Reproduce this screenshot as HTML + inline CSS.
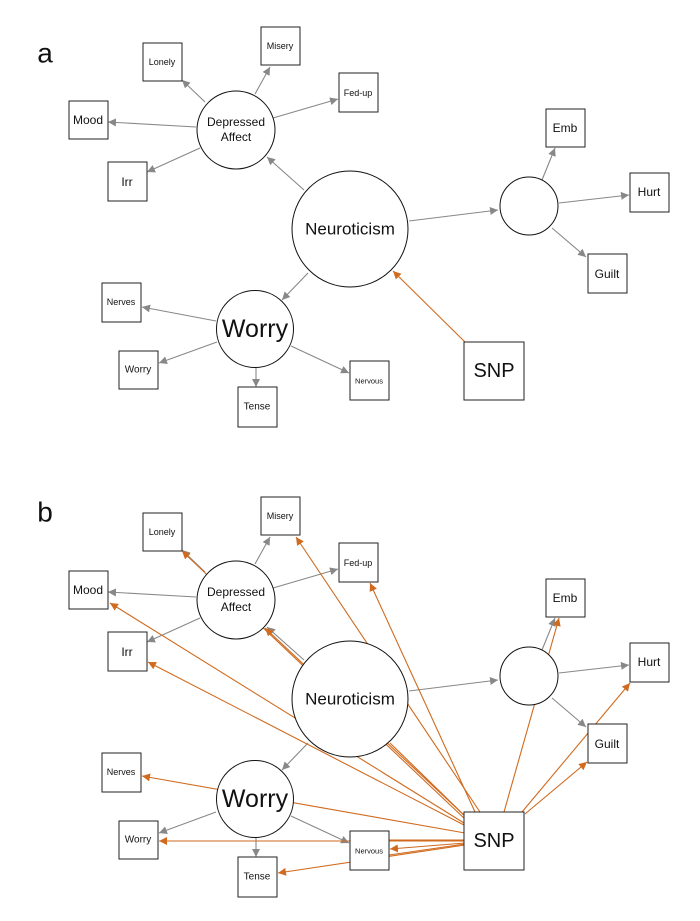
<!DOCTYPE html>
<html><head><meta charset="utf-8"><style>
html,body{margin:0;padding:0;background:#fff;}
svg{display:block;}
text{font-family:"Liberation Sans",Arial,sans-serif;fill:#111;text-anchor:middle;dominant-baseline:central;}
.g{stroke:#888;stroke-width:1.1;fill:none;marker-end:url(#ag);}
.o{stroke:#d06a1e;stroke-width:1.1;fill:none;marker-end:url(#ao);}
.ol{stroke:#d06a1e;stroke-width:1.1;fill:none;}
.b{fill:#fff;stroke:#222;stroke-width:1;}
.c{fill:#fff;stroke:#111;stroke-width:1;}
</style></head><body>
<svg width="700" height="921" viewBox="0 0 700 921" xmlns="http://www.w3.org/2000/svg">
<defs>
<marker id="ag" viewBox="0 0 10 10" refX="10" refY="5" markerWidth="8" markerHeight="8" markerUnits="userSpaceOnUse" orient="auto"><path d="M0,0L10,5L0,10z" fill="#888"/></marker>
<marker id="ao" viewBox="0 0 10 10" refX="10" refY="5" markerWidth="8" markerHeight="8" markerUnits="userSpaceOnUse" orient="auto"><path d="M0,0L10,5L0,10z" fill="#d06a1e"/></marker>
</defs>

<!-- Panel a -->
<text x="45" y="53" style="font-size:28px">a</text>
<g>
<line class="g" x1="205" y1="102" x2="182" y2="80"/>
<line class="g" x1="255" y1="94" x2="270" y2="67"/>
<line class="g" x1="273" y1="118" x2="338" y2="99"/>
<line class="g" x1="196" y1="127" x2="108" y2="122"/>
<line class="g" x1="200" y1="148" x2="147" y2="172"/>
<line class="g" x1="304" y1="190" x2="267" y2="157"/>
<line class="g" x1="409" y1="221" x2="498" y2="210"/>
<line class="g" x1="542" y1="180" x2="555" y2="148"/>
<line class="g" x1="559" y1="203" x2="629" y2="195"/>
<line class="g" x1="552" y1="228" x2="586" y2="257"/>
<line class="g" x1="308" y1="273" x2="282" y2="300"/>
<line class="g" x1="216" y1="321" x2="142" y2="307"/>
<line class="g" x1="217" y1="342" x2="159" y2="363"/>
<line class="g" x1="256" y1="368" x2="256" y2="387"/>
<line class="g" x1="291" y1="346" x2="349" y2="373"/>
<line class="o" x1="465" y1="342" x2="393" y2="271"/>

<circle class="c" cx="236" cy="130" r="39"/>
<circle class="c" cx="350" cy="229" r="58"/>
<circle class="c" cx="529" cy="206" r="29"/>
<circle class="c" cx="255" cy="329" r="38.5"/>
<text x="236" y="122" style="font-size:12px">Depressed</text>
<text x="236" y="137" style="font-size:12px">Affect</text>
<text x="350" y="229" style="font-size:17px">Neuroticism</text>
<text x="255" y="329" style="font-size:25px">Worry</text>

<rect class="b" x="143" y="43" width="39" height="38"/><text x="162" y="62" style="font-size:9px">Lonely</text>
<rect class="b" x="261" y="27" width="39" height="38"/><text x="280" y="46" style="font-size:9px">Misery</text>
<rect class="b" x="339" y="73" width="39" height="39"/><text x="358" y="93" style="font-size:9px">Fed-up</text>
<rect class="b" x="69" y="101" width="39" height="38"/><text x="88" y="120" style="font-size:12px">Mood</text>
<rect class="b" x="108" y="162" width="39" height="39"/><text x="127" y="182" style="font-size:12px">Irr</text>
<rect class="b" x="546" y="109" width="39" height="38"/><text x="565" y="128" style="font-size:12px">Emb</text>
<rect class="b" x="630" y="173" width="39" height="39"/><text x="649" y="192" style="font-size:12px">Hurt</text>
<rect class="b" x="588" y="254" width="39" height="39"/><text x="607" y="274" style="font-size:12px">Guilt</text>
<rect class="b" x="102" y="283" width="39" height="39"/><text x="121" y="302" style="font-size:9px">Nerves</text>
<rect class="b" x="119" y="351" width="39" height="38"/><text x="138" y="370" style="font-size:10px">Worry</text>
<rect class="b" x="238" y="387" width="39" height="40"/><text x="257" y="407" style="font-size:10px">Tense</text>
<rect class="b" x="350" y="361" width="39" height="39"/><text x="369" y="381" style="font-size:7.5px">Nervous</text>
<rect class="b" x="464" y="342" width="60" height="58"/><text x="494" y="371" style="font-size:20px">SNP</text>
</g>

<!-- Panel b -->
<text x="45" y="512" style="font-size:28px">b</text>
<g transform="translate(0,470)">
<line class="g" x1="205" y1="102" x2="182" y2="80"/>
<line class="g" x1="255" y1="94" x2="270" y2="67"/>
<line class="g" x1="273" y1="118" x2="338" y2="99"/>
<line class="g" x1="196" y1="127" x2="108" y2="122"/>
<line class="g" x1="200" y1="148" x2="147" y2="172"/>
<line class="g" x1="304" y1="190" x2="267" y2="157"/>
<line class="g" x1="409" y1="221" x2="498" y2="210"/>
<line class="g" x1="542" y1="180" x2="555" y2="148"/>
<line class="g" x1="559" y1="203" x2="629" y2="195"/>
<line class="g" x1="552" y1="228" x2="586" y2="257"/>
<line class="g" x1="308" y1="273" x2="282" y2="300"/>
<line class="g" x1="216" y1="342" x2="159" y2="363"/>
<line class="g" x1="256" y1="368" x2="256" y2="387"/>
<line class="g" x1="291" y1="346" x2="349" y2="373"/>

<!-- orange from SNP -->
<line class="o" x1="480" y1="342" x2="296" y2="67"/>
<line class="o" x1="475" y1="342" x2="370" y2="113"/>
<line class="o" x1="464" y1="353" x2="110" y2="133"/>
<line class="o" x1="464" y1="355" x2="148" y2="192"/>
<line class="o" x1="466" y1="350" x2="182" y2="81"/>
<line class="o" x1="467" y1="348" x2="265" y2="158"/>
<line class="ol" x1="465" y1="346" x2="390" y2="273"/>
<line class="o" x1="504" y1="342" x2="559" y2="148"/>
<line class="o" x1="522" y1="342" x2="630" y2="213"/>
<line class="o" x1="525" y1="344" x2="587" y2="292"/>
<line class="o" x1="465" y1="363" x2="142" y2="306"/>
<line class="o" x1="465" y1="371" x2="159" y2="371"/>
<line class="ol" x1="465" y1="370" x2="389" y2="370"/>
<line class="o" x1="465" y1="373" x2="390" y2="379"/>
<line class="ol" x1="465" y1="374" x2="389" y2="385"/>
<line class="o" x1="465" y1="375" x2="278" y2="403"/>

<circle class="c" cx="236" cy="130" r="39"/>
<circle class="c" cx="350" cy="229" r="58"/>
<circle class="c" cx="529" cy="206" r="29"/>
<circle class="c" cx="255" cy="329" r="38.5"/>
<text x="236" y="122" style="font-size:12px">Depressed</text>
<text x="236" y="137" style="font-size:12px">Affect</text>
<text x="350" y="229" style="font-size:17px">Neuroticism</text>
<text x="255" y="329" style="font-size:25px">Worry</text>

<rect class="b" x="143" y="43" width="39" height="38"/><text x="162" y="62" style="font-size:9px">Lonely</text>
<rect class="b" x="261" y="27" width="39" height="38"/><text x="280" y="46" style="font-size:9px">Misery</text>
<rect class="b" x="339" y="73" width="39" height="39"/><text x="358" y="93" style="font-size:9px">Fed-up</text>
<rect class="b" x="69" y="101" width="39" height="38"/><text x="88" y="120" style="font-size:12px">Mood</text>
<rect class="b" x="108" y="162" width="39" height="39"/><text x="127" y="182" style="font-size:12px">Irr</text>
<rect class="b" x="546" y="109" width="39" height="38"/><text x="565" y="128" style="font-size:12px">Emb</text>
<rect class="b" x="630" y="173" width="39" height="39"/><text x="649" y="192" style="font-size:12px">Hurt</text>
<rect class="b" x="588" y="254" width="39" height="39"/><text x="607" y="274" style="font-size:12px">Guilt</text>
<rect class="b" x="102" y="283" width="39" height="39"/><text x="121" y="302" style="font-size:9px">Nerves</text>
<rect class="b" x="119" y="351" width="39" height="38"/><text x="138" y="370" style="font-size:10px">Worry</text>
<rect class="b" x="238" y="387" width="39" height="40"/><text x="257" y="407" style="font-size:10px">Tense</text>
<rect class="b" x="350" y="361" width="39" height="39"/><text x="369" y="381" style="font-size:7.5px">Nervous</text>
<line class="ol" x1="389" y1="370" x2="349" y2="370" style="opacity:0"/>
<rect class="b" x="464" y="342" width="60" height="58"/><text x="494" y="371" style="font-size:20px">SNP</text>
</g>
</svg>
</body></html>
